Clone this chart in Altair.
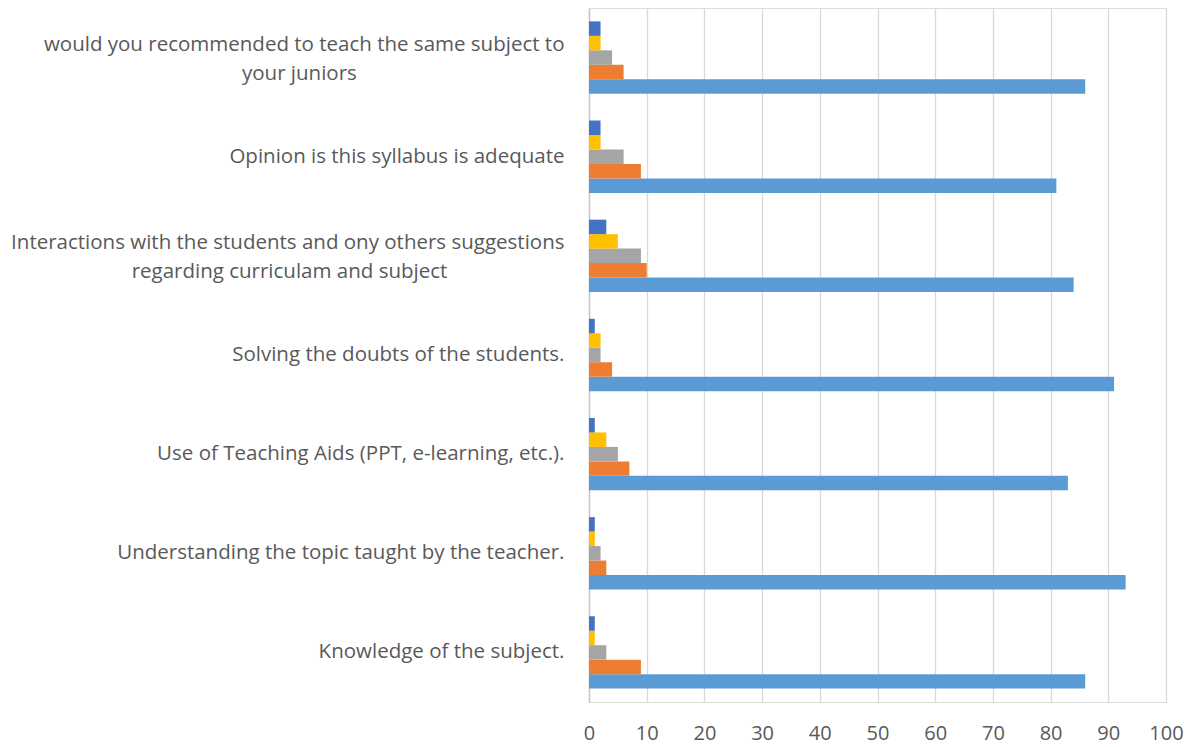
import altair as alt
import pandas as pd

# Categories, top to bottom as drawn
categories = [
    "would you recommended to teach the same subject to\nyour juniors",
    "Opinion is this syllabus is adequate",
    "Interactions with the students and ony others suggestions\nregarding curriculam and subject",
    "Solving the doubts of the students.",
    "Use of Teaching Aids (PPT, e-learning, etc.).",
    "Understanding the topic taught by the teacher.",
    "Knowledge of the subject.",
]

series_names = ["Series1", "Series2", "Series3", "Series4", "Series5"]
series1 = [86, 81, 84, 91, 83, 93, 86]   # light blue
series2 = [6, 9, 10, 4, 7, 3, 9]         # orange
series3 = [4, 6, 9, 2, 5, 2, 3]          # gray
series4 = [2, 2, 5, 2, 3, 1, 1]          # yellow
series5 = [2, 2, 3, 1, 1, 1, 1]          # dark blue
series_colors = ["#5B9BD5", "#ED7D31", "#A5A5A5", "#FFC000", "#4472C4"]

x_ticks = [0, 10, 20, 30, 40, 50, 60, 70, 80, 90, 100]

# second-line padding (non-breaking spaces) so wrapped lines look centred
second_line_pad = {0: 39, 2: 22}

def display_label(i, text):
    if "\n" in text:
        a, b = text.split("\n")
        return a + "\n" + b + "\u00a0" * second_line_pad.get(i, 0) + "\u200b"
    return text

labels = [display_label(i, c) for i, c in enumerate(categories)]

rows = []
for vals, name in zip([series1, series2, series3, series4, series5], series_names):
    for lab, v in zip(labels, vals):
        rows.append({"category": lab, "series": name, "value": v})
df = pd.DataFrame(rows)

FONT = "Open Sans"
TXT = "#595959"

chart = alt.Chart(df).mark_bar().encode(
    y=alt.Y(
        "category:N",
        sort=labels,
        scale=alt.Scale(paddingInner=0.27, paddingOuter=0.135),
        axis=alt.Axis(
            title=None,
            ticks=False,
            labelLimit=700,
            labelFont=FONT,
            labelFontSize=20.5,
            labelColor=TXT,
            labelPadding=25,
            labelLineHeight=29,
            labelExpr="split(datum.label, '\\n')",
            labelOffset=alt.condition(
                "indexof(datum.value, '\\n') >= 0", alt.value(-13), alt.value(0)
            ),
            domainColor="#C8C8C8",
            domainWidth=1.5,
            grid=False,
        ),
    ),
    yOffset=alt.YOffset(
        "series:N",
        sort=list(reversed(series_names)),
        scale=alt.Scale(paddingInner=0, paddingOuter=0),
    ),
    x=alt.X(
        "value:Q",
        scale=alt.Scale(domain=[0, 100], nice=False),
        axis=alt.Axis(
            title=None,
            values=x_ticks,
            ticks=False,
            domain=False,
            grid=True,
            gridColor="#D9D9D9",
            gridWidth=1.3,
            labelFlush=False,
            labelFont=FONT,
            labelFontSize=20,
            labelColor=TXT,
            labelPadding=21,
        ),
    ),
    color=alt.Color(
        "series:N",
        scale=alt.Scale(domain=series_names, range=series_colors),
        legend=None,
    ),
).properties(
    width=577,
    height=694,
    autosize=alt.AutoSizeParams(type="none"),
    padding={"left": 581, "top": 0, "right": 18, "bottom": 42},
).configure_view(stroke=None).configure(background="white")

chart.save("out.html", embed_options={"renderer": "svg", "actions": False})
